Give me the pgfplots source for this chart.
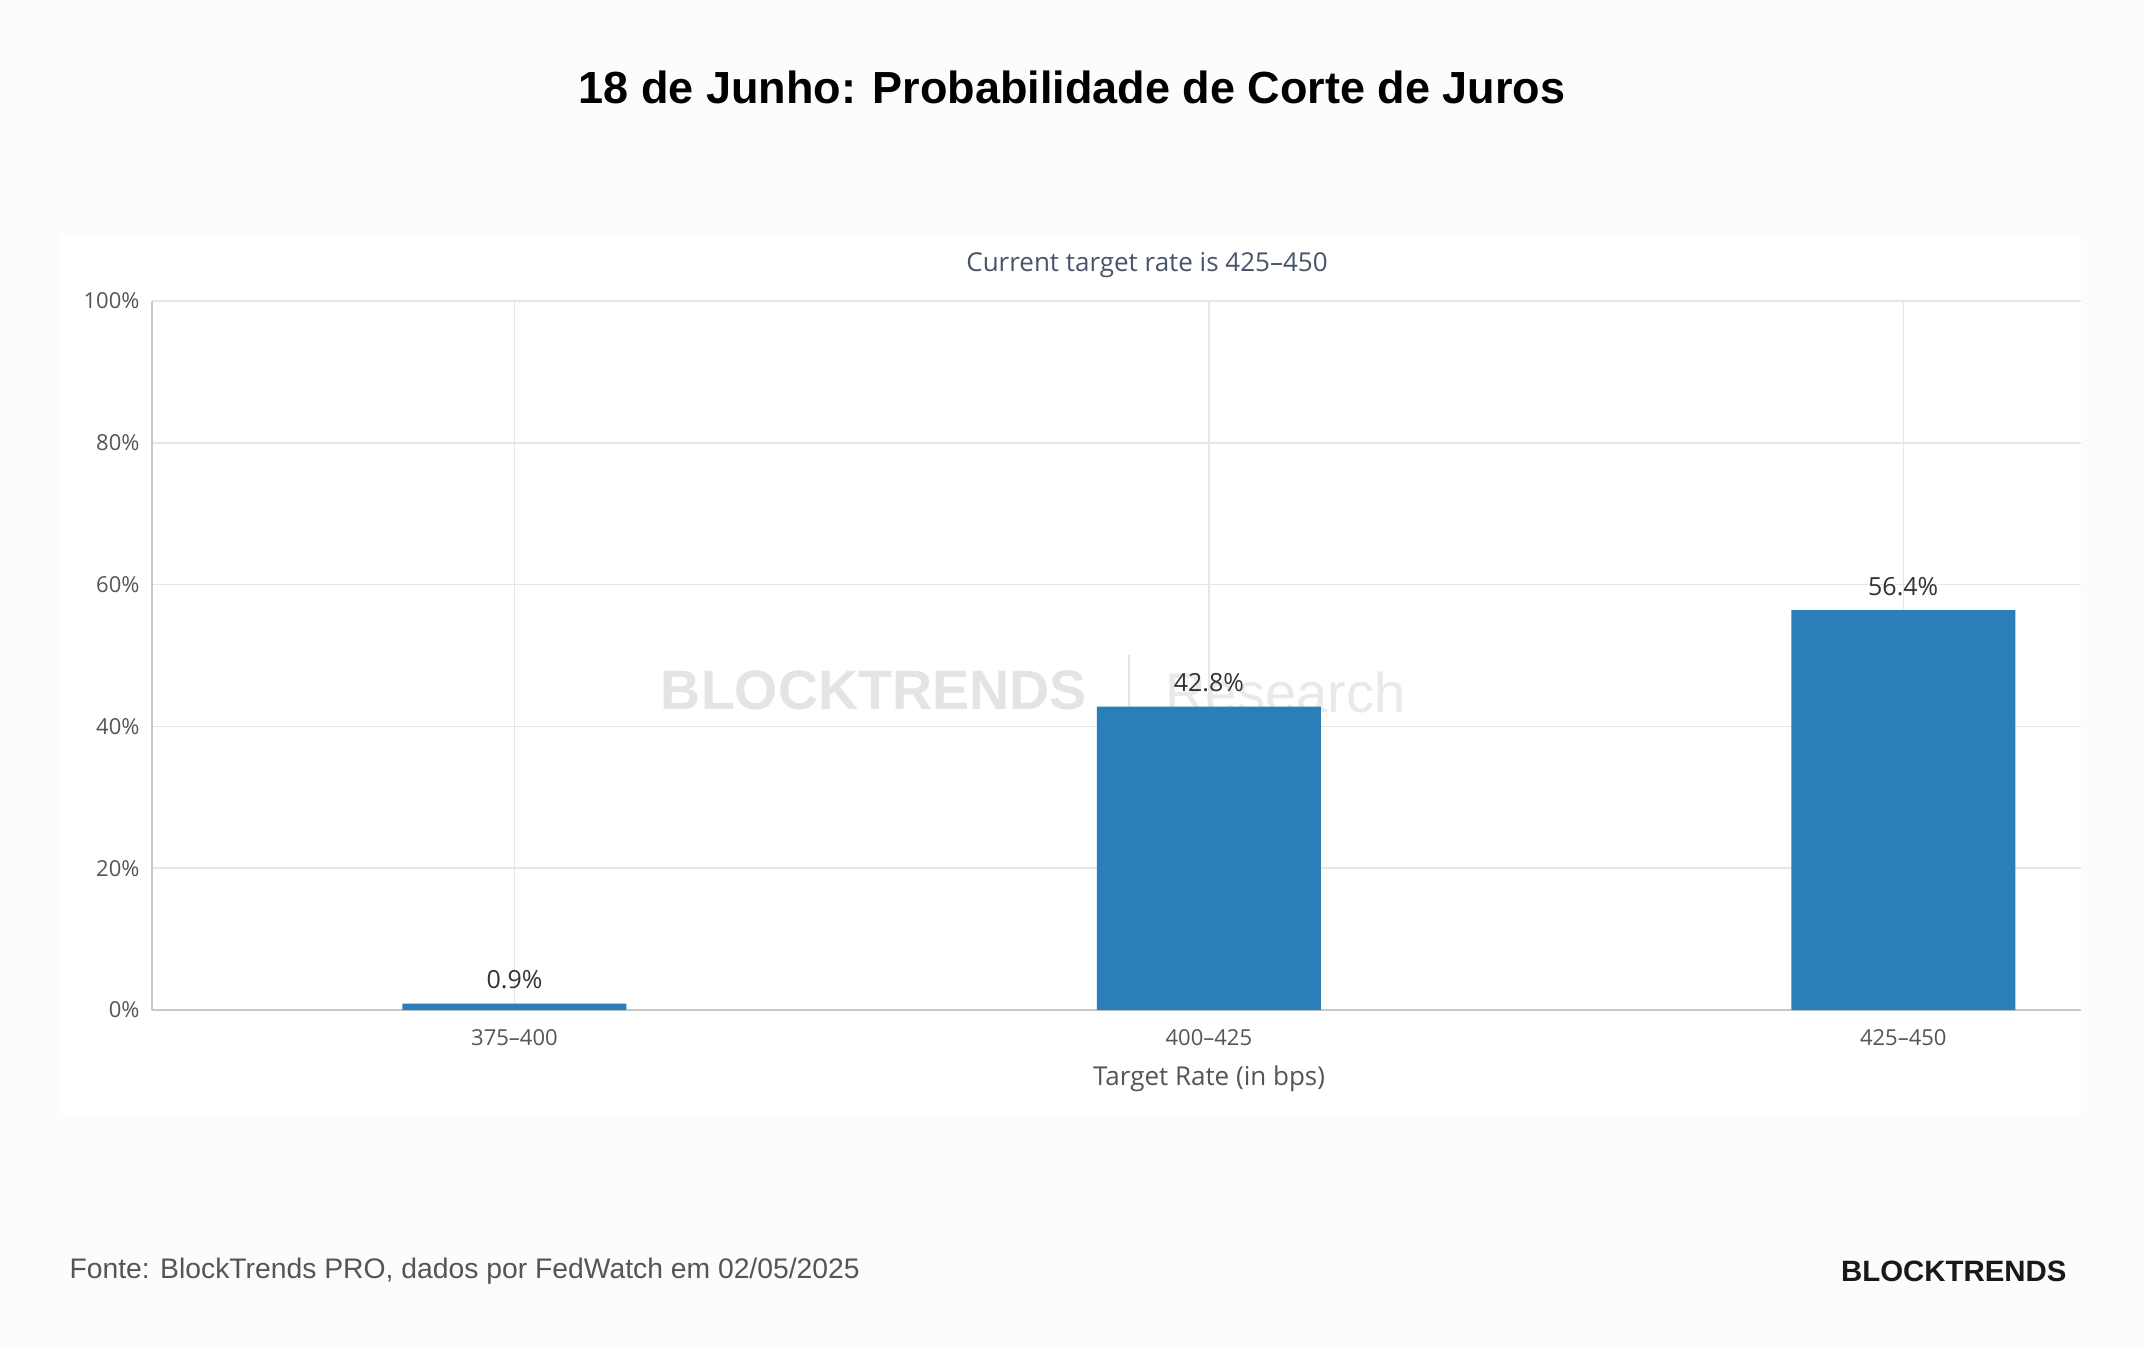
\documentclass[border=0pt]{standalone}
\usepackage{fontspec}
\setmainfont{Liberation Sans}
\newfontfamily\chartfont{Open Sans}
\usepackage{pgfplots}
\pgfplotsset{compat=1.18}

\definecolor{pagebg}{RGB}{253,252,250}
\definecolor{barblue}{RGB}{42,127,184}
\definecolor{gridc}{RGB}{230,230,230}
\definecolor{axisc}{RGB}{200,200,200}
\definecolor{ticktext}{RGB}{85,85,85}
\definecolor{subt}{RGB}{72,84,104}
\definecolor{wm}{RGB}{228,228,228}

\begin{document}
\begin{tikzpicture}
\fill[pagebg] (0pt,0pt) rectangle (2144pt,-1350pt);
\fill[white] (60pt,-235pt) rectangle (2081pt,-1114pt);
\node[font=\fontsize{45}{52}\selectfont\bfseries, text=black] at (1072pt,-87pt) {18 de Junho: Probabilidade de Corte de Juros};
\node[font=\chartfont\fontsize{26}{30}\selectfont, text=subt] at (1147pt,-265pt) {Current target rate is 425–450};
% watermark
\node[font=\fontsize{55.5}{62}\selectfont\bfseries, text=wm, anchor=east] at (1090pt,-690pt) {BLOCKTRENDS};
\draw[wm, line width=2pt] (1129pt,-655pt) -- (1129pt,-728pt);
\node[font=\fontsize{56}{64}\selectfont, text=wm!80!white, anchor=west] at (1162pt,-692pt) {Research};
\begin{axis}[
  at={(152pt,-1010pt)}, anchor=south west,
  width=1929pt, height=709pt, scale only axis,
  xmin=-0.522, xmax=2.256, ymin=0, ymax=100,
  xtick={0,1,2}, xticklabels={375–400,400–425,425–450},
  ytick={0,20,40,60,80,100},
  yticklabel={\pgfmathprintnumber{\tick}\%},
  ymajorgrids, xmajorgrids,
  grid style={gridc, line width=1.5pt},
  axis x line*=bottom, axis y line*=left,
  x axis line style={axisc, line width=2.5pt},
  y axis line style={axisc, line width=1.8pt},
  major tick length=0pt,
  /pgf/number format/assume math mode=true,
  ticklabel style={font=\chartfont\fontsize{22}{26}\selectfont, text=ticktext},
  xticklabel style={yshift=-16pt},
  yticklabel style={xshift=-9pt},
  xlabel={Target Rate (in bps)},
  xlabel style={font=\chartfont\fontsize{26}{30}\selectfont, text=ticktext,
    at={(axis description cs:0.548,0)}, anchor=north, yshift=-52pt},
  ybar, bar width=224pt,
  nodes near coords={\pgfmathprintnumber[fixed,precision=1,fixed zerofill]{\pgfplotspointmeta}\%},
  every node near coord/.append style={font=\chartfont\fontsize{25}{30}\selectfont, text=black!80, yshift=11pt},
]
\addplot[fill=barblue, draw=none] coordinates {(0,0.9) (1,42.8) (2,56.4)};
\end{axis}
\node[font=\fontsize{28.3}{32}\selectfont, text=ticktext, anchor=west] at (66pt,-1271pt) {Fonte: BlockTrends PRO, dados por FedWatch em 02/05/2025};
\node[font=\fontsize{29.4}{32}\selectfont\bfseries, text=black!90, anchor=east] at (2070pt,-1271pt) {BLOCKTRENDS};
\end{tikzpicture}
\end{document}
